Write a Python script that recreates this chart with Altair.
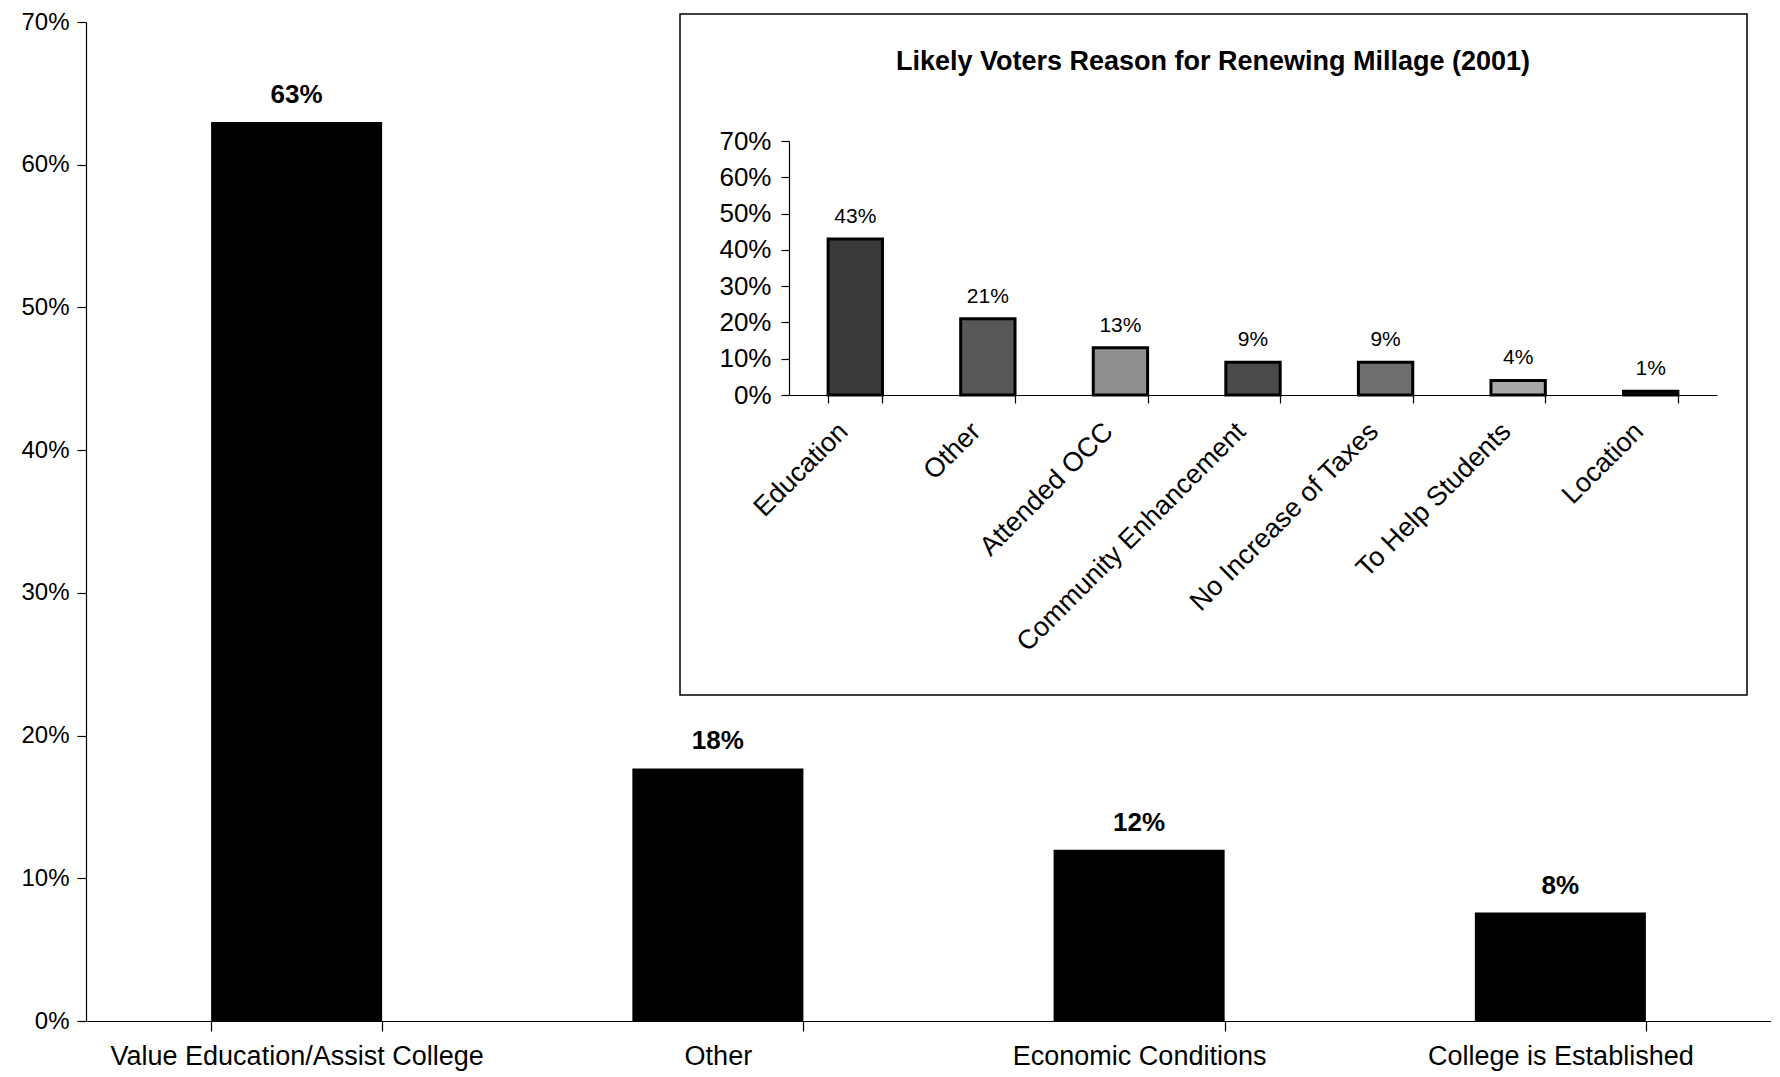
import altair as alt
import pandas as pd

# ---- data ----
main_categories = ["Value Education/Assist College", "Other", "Economic Conditions", "College is Established"]
main_values = [0.63, 0.177, 0.12, 0.076]

inset_title = "Likely Voters Reason for Renewing Millage (2001)"
inset_categories = ["Education", "Other", "Attended OCC", "Community Enhancement",
                    "No Increase of Taxes", "To Help Students", "Location"]
inset_values = [0.43, 0.21, 0.13, 0.09, 0.09, 0.04, 0.01]
inset_colors = ["#3a3a3a", "#575757", "#8f8f8f", "#4a4a4a", "#6e6e6e", "#a8a8a8", "#111111"]

y_ticks = [0, 0.1, 0.2, 0.3, 0.4, 0.5, 0.6, 0.7]

FONT = "Liberation Sans, Arial, Helvetica, sans-serif"

main_df = pd.DataFrame({"cat": main_categories, "val": main_values})
inset_df = pd.DataFrame({"cat": inset_categories, "val": inset_values})

W, H = 1685, 999
TOP = 14

# ---- main chart ----
mx = alt.X("cat:N", sort=main_categories, title=None,
           scale=alt.Scale(paddingInner=0.594, paddingOuter=0.297),
           axis=alt.Axis(orient="bottom", labelAngle=0, tickBand="extent", tickSize=10,
                         labelPadding=12, labelFontSize=27, labelFont=FONT,
                         labelColor="black", domainColor="black", tickColor="black",
                         labelLimit=0))
my = alt.Y("val:Q", title=None,
           scale=alt.Scale(domain=[0, 0.7]),
           axis=alt.Axis(orient="left", values=y_ticks, format=".0%", tickSize=9,
                         labelPadding=8, labelFontSize=24, labelFont=FONT,
                         labelColor="black", domainColor="black", tickColor="black"))

main_bars = alt.Chart(main_df).mark_bar(color="black").encode(x=mx, y=my)
main_text = alt.Chart(main_df).mark_text(
    baseline="bottom", dy=-14, fontSize=26, fontWeight="bold", font=FONT, color="black"
).encode(x=alt.X("cat:N", sort=main_categories), y="val:Q", text=alt.Text("val:Q", format=".0%"))

main = alt.layer(main_bars, main_text)

# ---- inset chart (positions relative to plot origin) ----
Y0 = 395 - 8 - TOP    # inset 0% line
Y70 = 141 - 8 - TOP   # inset 70% line

ix = alt.X("cat:N", sort=inset_categories, title=None,
           scale=alt.Scale(range=[703, 1631], paddingInner=0.59, paddingOuter=0.295),
           axis=alt.Axis(orient="bottom", offset=-(H - Y0), labelAngle=-45,
                         labelAlign="right", labelBaseline="middle",
                         tickBand="extent", tickSize=8, labelPadding=24, labelOffset=-12,
                         labelFontSize=27, labelFont=FONT, labelColor="black",
                         domainColor="black", tickColor="black", labelLimit=0, zindex=2))
iy = alt.Y("val:Q", title=None,
           scale=alt.Scale(domain=[0, 0.7], range=[Y0, Y70]),
           axis=alt.Axis(orient="left", offset=-703, values=y_ticks, format=".0%",
                         tickSize=8, labelPadding=10, labelFontSize=26, labelFont=FONT,
                         labelColor="black", domainColor="black", tickColor="black",
                         zindex=2))

frame = alt.Chart(pd.DataFrame({"k": [0]})).mark_rect(
    fillOpacity=0, stroke="black", strokeWidth=1.5
).encode(x=alt.value(594), x2=alt.value(1661), y=alt.value(14 - 8 - TOP), y2=alt.value(695 - 8 - TOP))

title = alt.Chart(pd.DataFrame({"t": [inset_title]})).mark_text(
    fontSize=27, fontWeight="bold", font=FONT, color="black", baseline="middle", align="center"
).encode(x=alt.value(1127), y=alt.value(62 - 8 - TOP), text="t:N")

inset_bars = alt.Chart(inset_df).mark_bar(stroke="black", strokeWidth=3).encode(
    x=ix, y=iy,
    color=alt.Color("cat:N", scale=alt.Scale(domain=inset_categories, range=inset_colors), legend=None),
)
inset_text = alt.Chart(inset_df).mark_text(
    baseline="bottom", dy=-12, fontSize=21, font=FONT, color="black"
).encode(x=alt.X("cat:N", sort=inset_categories), y="val:Q", text=alt.Text("val:Q", format=".0%"))

inset = alt.layer(frame, title, inset_bars, inset_text)

chart = alt.layer(main, inset).resolve_scale(
    x="independent", y="independent", color="independent"
).properties(
    width=W, height=H,
    autosize=alt.AutoSizeParams(type="none"),
    padding={"left": 78, "top": TOP, "right": 0, "bottom": 56},
).configure_view(stroke=None).configure_axis(grid=False, domainWidth=1.2, tickWidth=1.2)

chart.save("out.html", embed_options={"renderer": "svg", "actions": False})
